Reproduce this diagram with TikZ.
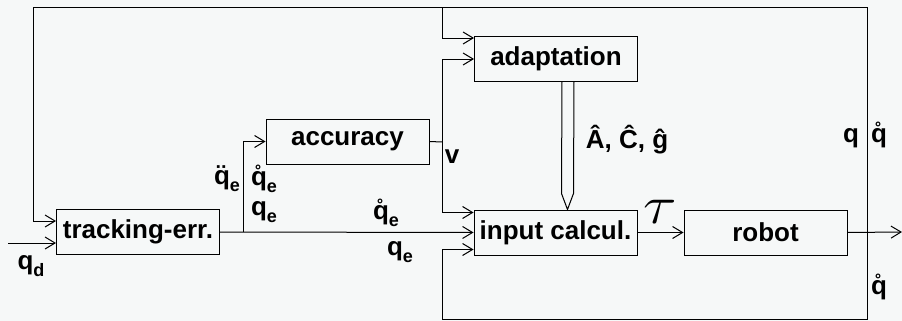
\documentclass[tikz,border=0pt]{standalone}
\usepackage{fontspec}
\setmainfont{Liberation Sans}
\usepackage{xcolor}
\usepackage{tikz}
\usetikzlibrary{arrows.meta, calc}
\definecolor{paper}{RGB}{246,248,248}
\newcommand{\lowsub}[1]{\raisebox{-0.55ex}{\fontsize{9}{9}\selectfont #1}}

\begin{document}
\begin{tikzpicture}[
    x=0.5pt, y=-0.5pt,
    line width=0.5pt,
    block/.style={rectangle, draw, minimum width=81.5pt, minimum height=22.5pt, inner sep=1pt, font=\fontsize{13}{15}\selectfont\bfseries},
    lbl/.style={inner sep=0pt, font=\fontsize{13}{15}\selectfont\bfseries},
    arrow/.style={-{Straight Barb[length=5pt, width=6pt]}},
]
\fill[paper] (0,0) rectangle (902,321);
\useasboundingbox (0,0) rectangle (902,321);
\node[block] (track) at (138,232) {tracking-err.};
\node[block] (acc) at (347.5,141.5) {accuracy};
\node[block] (adapt) at (556,59) {adaptation};
\node[block] (inp) at (555.5,232.5) {input calcul.};
\node[block] (robot) at (765.5,232.5) {robot};
\coordinate (qd) at (8,243);
\coordinate (out) at (902,232);
\coordinate (topleft) at (33,7);
\coordinate (topsplit) at (442,7);
\coordinate (botleft) at (442,319);
\coordinate (outsplit) at (867,232);
\coordinate (errsplit) at (243,232);
\coordinate (vsplit) at (442,142);
% signal flow
\draw[arrow] (qd) -- (qd -| track.west);
\draw[arrow] (track.east) -- (inp.west);
\draw[arrow] (errsplit) |- (acc.west);
\draw (acc.east) -- (vsplit);
\draw[arrow] (vsplit) |- (adapt.west);
\draw[arrow] (vsplit) |- ($(inp.west)+(0,-20)$);
\draw[arrow] (inp.east) -- (robot.west);
\draw[arrow] (robot.east) -- (out);
% feedback of q and its derivative
\draw[arrow] (outsplit) |- (topleft) |- ($(track.west)+(0,-11)$);
\draw[arrow] (topsplit) |- ($(adapt.west)+(0,-21)$);
\draw[arrow] (outsplit) |- (botleft) |- ($(inp.west)+(0,17)$);
% parameter estimates
\draw ($(adapt.south)+(6,0)$) -- ($(inp.north)+(6,-16)$) -- ($(inp.north)+(12,0)$)
    -- ($(inp.north)+(18,-16)$) -- ($(adapt.south)+(18,0)$);
% labels
\node[lbl] (lqd) at (31,266) {q\lowsub{d}};
\node[lbl] (lqdd) at (227,179) {\"q\lowsub{e}};
\node[lbl] (lqdot) at (264,179) {\r{q}\lowsub{e}};
\node[lbl] (lq) at (264,212) {q\lowsub{e}};
\node[lbl] (lqdot2) at (386,213) {\r{q}\lowsub{e}};
\node[lbl] (lq2) at (400,252) {q\lowsub{e}};
\node[lbl] (lv) at (452,157) {v};
\node[lbl] (lest) at (627,140) {\^A, \^C, \^g};
\node[lbl] (ltau) at (660,212) {\scalebox{1.5}[1.3]{\fontsize{20}{20}\selectfont$\tau$}};
\node[lbl] (lqout) at (851,138) {q};
\node[lbl] (lqdout) at (879,135) {\r{q}};
\node[lbl] (lqdbot) at (879,287) {\r{q}};
\end{tikzpicture}
\end{document}
